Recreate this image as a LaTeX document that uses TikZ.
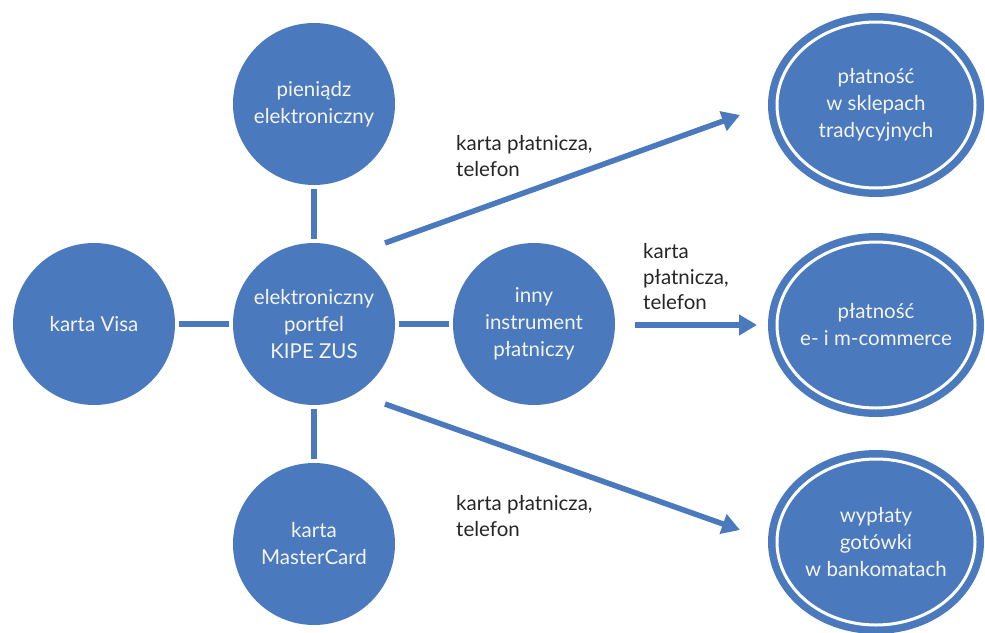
\documentclass[tikz,border=0pt]{standalone}
\usepackage{fontspec}
\setmainfont{Lato}
\usetikzlibrary{shapes.geometric,arrows.meta}
\definecolor{nodeblue}{HTML}{4A7ABD}
\definecolor{txtdark}{HTML}{262626}
\definecolor{txtlight}{HTML}{F4F4F4}
\tikzset{
  bubble/.style={circle, fill=nodeblue, minimum size=162pt, inner sep=0pt,
    text=txtlight, align=center, font=\fontsize{20.5}{27}\selectfont},
  target/.style={ellipse, fill=nodeblue, minimum width=216pt, minimum height=184pt,
    inner sep=0pt, text=txtlight, align=center, font=\fontsize{20.5}{27}\selectfont},
  ring/.style={draw=white, line width=3pt},
  link/.style={draw=nodeblue, line width=6pt, shorten <=3.5pt, shorten >=3.5pt},
  flow/.style={draw=nodeblue, line width=5.5pt, -{Triangle[length=18pt,width=20pt]}},
  lbl/.style={text=txtdark, align=left, anchor=west, inner sep=0pt,
    font=\fontsize{20.5}{25.5}\selectfont}
}
\begin{document}
\begin{tikzpicture}[x=1pt,y=-1pt]
\useasboundingbox (0,0) rectangle (985,632);
% circles
\node[bubble] (visa) at (94,324) {karta Visa};
\node[bubble] (portfel) at (314,324) {elektroniczny\\portfel\\KIPE ZUS};
\node[bubble] (pien) at (314,104) {pieniądz\\elektroniczny};
\node[bubble] (master) at (314,544) {karta\\MasterCard};
\node[bubble] (inny) at (534,324) {inny\\instrument\\płatniczy};
% targets
\node[target] (shop) at (876,105) {płatność\\w sklepach\\tradycyjnych};
\draw[ring] (shop.center) ellipse [x radius=99pt, y radius=83pt];
\node[target] (ecom) at (876,325) {płatność\\e- i m-commerce};
\draw[ring] (ecom.center) ellipse [x radius=99pt, y radius=83pt];
\node[target] (atm) at (876,542) {wypłaty\\gotówki\\w bankomatach};
\draw[ring] (atm.center) ellipse [x radius=99pt, y radius=83pt];
% links
\draw[link] (visa) -- (portfel);
\draw[link] (portfel) -- (inny);
\draw[link] (pien) -- (portfel);
\draw[link] (portfel) -- (master);
% arrows
\coordinate (a1s) at (385,243);
\coordinate (a1e) at (740,115);
\coordinate (a2s) at (635,325);
\coordinate (a2e) at (757,325);
\coordinate (a3s) at (385,404);
\coordinate (a3e) at (740,530);
\draw[flow] (a1s) -- (a1e);
\draw[flow] (a2s) -- (a2e);
\draw[flow] (a3s) -- (a3e);
% labels
\node[lbl] (l1) at (456,156) {karta płatnicza,\\telefon};
\node[lbl] (l2) at (643,277) {karta\\płatnicza,\\telefon};
\node[lbl] (l3) at (456,516) {karta płatnicza,\\telefon};
\end{tikzpicture}
\end{document}
